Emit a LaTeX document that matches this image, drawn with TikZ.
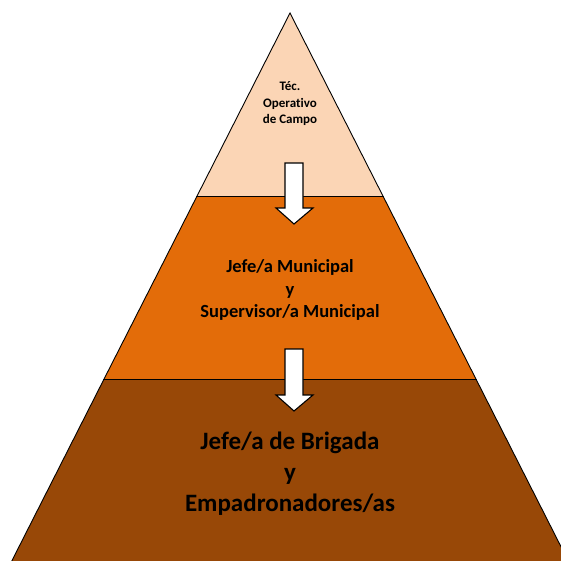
\documentclass[tikz,border=0pt]{standalone}
\usepackage{fontspec}
\setmainfont[Ligatures=NoCommon]{Carlito}
\definecolor{peach}{HTML}{FBD5B5}
\definecolor{orangeM}{HTML}{E36C09}
\definecolor{brownB}{HTML}{984807}
\begin{document}
\begin{tikzpicture}[x=1pt,y=-1pt,
  layer/.style={draw=black,line width=0.9pt,line join=miter},
  downarrow/.style={draw=black,fill=white,line width=1.1pt,line join=miter},
  lbl/.style={align=center,font=\bfseries,text=black,inner sep=0pt}]
\useasboundingbox (0,0) rectangle (561,560);
\begin{scope}
\clip (0,0) rectangle (561,560);
% layers
\path[layer,fill=brownB] (103.8,379.5) -- (476.2,379.5) -- (568.5,561.5) -- (11.5,561.5) -- cycle;
\path[layer,fill=orangeM] (196.8,196.5) -- (383.2,196.5) -- (476.2,379.5) -- (103.8,379.5) -- cycle;
\path[layer,fill=peach] (290,13) -- (383.2,196.5) -- (196.8,196.5) -- cycle;
\end{scope}
% arrows
\path[downarrow] (285,163) -- (303,163) -- (303,208) -- (313,208) -- (294,224) -- (276,208) -- (285,208) -- cycle;
\path[downarrow] (285,349) -- (303,349) -- (303,395) -- (313,395) -- (294,411) -- (276,395) -- (285,395) -- cycle;
% labels
\node[lbl,font=\fontsize{13}{16.5}\selectfont\bfseries] (top) at (290,104) {Téc.\\Operativo\\de Campo};
\node[lbl,font=\fontsize{18.5}{22.5}\selectfont\bfseries] (mid) at (290,290) {Jefe/a Municipal\\y\\Supervisor/a Municipal};
\node[lbl,font=\fontsize{25}{31}\selectfont\bfseries] (bot) at (290,474) {Jefe/a de Brigada\\y\\Empadronadores/as};
\end{tikzpicture}
\end{document}
